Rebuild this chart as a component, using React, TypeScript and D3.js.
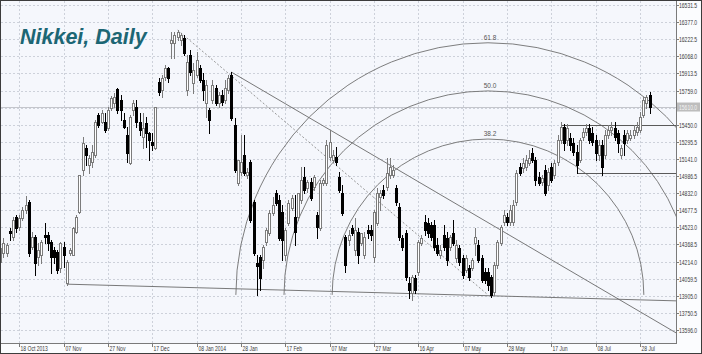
import * as d3 from 'd3';
import { useEffect, useRef } from 'react';

// daily bars, weekday CFD: [open, high, low, close]
const candles: number[][] = [
    [14210, 14435, 14095, 14335], [14290, 14425, 14255, 14380], [14290, 14380, 14265, 14365], [14490, 14520, 14410, 14475],
    [14435, 14615, 14410, 14590], [14615, 14635, 14480, 14520], [14530, 14635, 14500, 14610], [14610, 14705, 14590, 14680],
    [14680, 14805, 14655, 14725], [14755, 14770, 14265, 14290], [14345, 14480, 14330, 14435], [14435, 14455, 14095, 14200],
    [14255, 14380, 14185, 14320], [14275, 14410, 14200, 14390], [14455, 14565, 14380, 14435], [14455, 14480, 14320, 14380],
    [14390, 14410, 14110, 14255], [14320, 14345, 14200, 14255], [14300, 14320, 14110, 14140], [14155, 14390, 14120, 14380],
    [14345, 14390, 14165, 14275], [14020, 14230, 14005, 14210], [14290, 14335, 14275, 14320], [14275, 14525, 14275, 14520],
    [14480, 14635, 14475, 14615], [14660, 14995, 14655, 14995], [15040, 15340, 14995, 15285], [15240, 15265, 15085, 15175],
    [15085, 15175, 15015, 15150], [15115, 15265, 15070, 15205], [15175, 15495, 15160, 15475], [15540, 15555, 15430, 15450],
    [15475, 15585, 15465, 15555], [15475, 15555, 15385, 15405], [15420, 15610, 15405, 15585], [15600, 15710, 15585, 15690],
    [15645, 15735, 15610, 15700], [15775, 15780, 15555, 15585], [15675, 15720, 15495, 15585], [15495, 15555, 15420, 15430],
    [15360, 15430, 15115, 15195], [15105, 15540, 15095, 15520], [15585, 15675, 15540, 15645], [15610, 15675, 15430, 15475],
    [15475, 15555, 15360, 15405], [15340, 15555, 15240, 15420], [15465, 15520, 15250, 15375], [15375, 15385, 15130, 15315],
    [15295, 15375, 15220, 15265], [15240, 15610, 15230, 15610], [15835, 15875, 15720, 15745], [15765, 15900, 15700, 15875],
    [15880, 15990, 15855, 15965], [15965, 15970, 15835, 15875], [16190, 16290, 16055, 16215], [16190, 16290, 16055, 16260],
    [16245, 16305, 16215, 16290], [16215, 16280, 16170, 16260], [16235, 16260, 16080, 16100], [15765, 16080, 15720, 16015],
    [16080, 16125, 15900, 15925], [15825, 16010, 15735, 15945], [15900, 16105, 15880, 16035], [15965, 15990, 15835, 15855],
    [15855, 15920, 15675, 15765], [15645, 15855, 15520, 15810], [15585, 15600, 15375, 15495], [15675, 15855, 15645, 15810],
    [15780, 15810, 15630, 15645], [15645, 15745, 15610, 15720], [15720, 15765, 15630, 15655], [15675, 15855, 15645, 15780],
    [15765, 15900, 15735, 15875], [15900, 15925, 15495, 15510], [15450, 15510, 15025, 15040], [14925, 15130, 14905, 15130],
    [15025, 15360, 14995, 15115], [15175, 15360, 14995, 15015], [14995, 15060, 14970, 15025], [15115, 15130, 14570, 14590],
    [14755, 14770, 14275, 14290], [14200, 14275, 13915, 14175], [14255, 14275, 13960, 14065], [14230, 14365, 14155, 14345],
    [14390, 14520, 14365, 14500], [14470, 14680, 14455, 14655], [14655, 14800, 14635, 14725], [14835, 14860, 14725, 14745],
    [14770, 14815, 14410, 14425], [14660, 14725, 14230, 14410], [14275, 14520, 14230, 14500], [14565, 14770, 14545, 14745],
    [14700, 14815, 14680, 14790], [14615, 14815, 14365, 14480], [14615, 14835, 14590, 14835], [14770, 15070, 14745, 14950],
    [14980, 15070, 14835, 14860], [14880, 14950, 14845, 14935], [14935, 14970, 14770, 14790], [14890, 14995, 14860, 14980],
    [14635, 14665, 14430, 14525], [14520, 14950, 14500, 14925], [14925, 14970, 14905, 14950], [14925, 15315, 14905, 15265],
    [15160, 15405, 15130, 15295], [15130, 15220, 15115, 15175], [15160, 15250, 15085, 15115], [14980, 15025, 14845, 14860],
    [14835, 14905, 14635, 14655], [14435, 14455, 14120, 14185], [14410, 14500, 14365, 14455], [14520, 14545, 14455, 14475],
    [14320, 14610, 14275, 14500], [14480, 14520, 14200, 14275], [14380, 14455, 14365, 14475], [14275, 14480, 14245, 14435],
    [14500, 14545, 14430, 14475], [14500, 14545, 14410, 14455], [14255, 14680, 14210, 14660], [14565, 14880, 14545, 14835],
    [14800, 14860, 14680, 14835], [14860, 14905, 14790, 14815], [14890, 15150, 14860, 15015], [14995, 15150, 14970, 15070],
    [14995, 15085, 14980, 15040], [14880, 14905, 14725, 14755], [14705, 14745, 14410, 14435], [14425, 14455, 14320, 14345],
    [14475, 14500, 14050, 14075], [14020, 14075, 13885, 13960], [13930, 14095, 13865, 14075], [14065, 14095, 13930, 13960],
    [14120, 14410, 14095, 14390], [14380, 14455, 14365, 14425], [14570, 14635, 14455, 14500], [14565, 14610, 14435, 14475],
    [14545, 14570, 14410, 14435], [14545, 14590, 14320, 14345], [14365, 14425, 14275, 14290], [14275, 14365, 14245, 14320],
    [14455, 14545, 14320, 14345], [14425, 14480, 14185, 14230], [14345, 14455, 14320, 14435], [14475, 14590, 14365, 14380],
    [14245, 14410, 14210, 14365], [14335, 14365, 14185, 14210], [14245, 14275, 14065, 14095], [14140, 14275, 14120, 14245],
    [14155, 14185, 14050, 14075], [14155, 14245, 14140, 14230], [14380, 14520, 14275, 14435], [14365, 14410, 14210, 14230],
    [14245, 14275, 14030, 14050], [14120, 14155, 14020, 14050], [14120, 14155, 13960, 14005], [14075, 14095, 13895, 13915],
    [13940, 14210, 13915, 14185], [14185, 14410, 14155, 14390], [14380, 14545, 14365, 14525], [14570, 14680, 14545, 14635],
    [14615, 14655, 14545, 14570], [14570, 14725, 14545, 14680], [14570, 14770, 14545, 14725], [14755, 15040, 14725, 15015],
    [15070, 15105, 14995, 15015], [15060, 15150, 15025, 15105], [15070, 15175, 15040, 15130], [15105, 15220, 15085, 15150],
    [15195, 15240, 15115, 15130], [15130, 15160, 14905, 14950], [14980, 15025, 14905, 14925], [14935, 14995, 14905, 14970],
    [15040, 15085, 14815, 14835], [14905, 15060, 14860, 15025], [15070, 15105, 14935, 14950], [14995, 15130, 14970, 15105],
    [15115, 15360, 15085, 15315], [15315, 15475, 15285, 15430], [15430, 15455, 15220, 15285], [15315, 15455, 15265, 15420],
    [15330, 15375, 15220, 15265], [15285, 15330, 15175, 15205], [15205, 15265, 15015, 15085], [15130, 15330, 15115, 15315],
    [15340, 15420, 15315, 15385], [15385, 15455, 15360, 15420], [15420, 15455, 15285, 15315], [15375, 15430, 15265, 15295],
    [15315, 15360, 15130, 15195], [15175, 15315, 15130, 15265], [15265, 15315, 14995, 15070], [15175, 15405, 15150, 15360],
    [15360, 15450, 15330, 15405], [15405, 15475, 15360, 15430], [15420, 15475, 15315, 15340], [15375, 15405, 15205, 15285],
    [15177, 15265, 15150, 15240], [15360, 15405, 15175, 15285], [15315, 15405, 15285, 15375], [15330, 15405, 15315, 15360],
    [15360, 15450, 15330, 15405], [15385, 15475, 15360, 15430], [15405, 15565, 15385, 15520], [15540, 15700, 15520, 15675],
    [15645, 15720, 15600, 15700], [15720, 15745, 15555, 15610],
];

const xTickIdx = [6, 20, 34, 48, 62, 76, 90, 104, 118, 132, 146, 160, 174, 188, 202];
const xTickLabels = ['18 Oct 2013', '07 Nov', '27 Nov', '17 Dec', '08 Jan 2014', '28 Jan', '17 Feb', '07 Mar',
    '27 Mar', '16 Apr', '07 May', '28 May', '17 Jun', '08 Jul', '28 Jul'];
const yTicks = [13596.0, 13750.5, 13905.0, 14059.5, 14214.0, 14368.5, 14523.0, 14677.5, 14832.0, 14986.5,
    15141.0, 15295.5, 15450.0, 15604.5, 15759.0, 15913.5, 16068.0, 16222.5, 16377.0, 16531.5];

// fibonacci arcs: from the December high to the May low
const fibFrom = [56, 16305];
const fibTo = [154, 13913];
const fibLevels = [38.2, 50.0, 61.8];

// trend rays [idx1, price1, idx2, price2], extended to the right
const trendLines = [[73, 15925, 104, 15405], [21, 14010, 155, 13905]];
// horizontal levels [startIdx, price]
const levelLines = [[177, 15450], [182, 15015]];
const lastPrice = 15610.0;

const FONT = 'Liberation Sans, Arial, sans-serif';

export default function App() {
    const ref = useRef<any>();

    useEffect(() => {
        const W = 702;
        const H = 354;
        const plot = { left: 1, top: 1, right: 676, bottom: 343 };

        const svg = d3.select<any, any>(ref.current);
        svg.selectAll('*').remove();

        const x = d3.scaleLinear().domain([6, 202]).range([19.3, 640]);
        const y = d3.scaleLinear().domain([13596, 16531.5]).range([330, 5]);

        // narrow small label: squeeze horizontally like the terminal font
        const smallText = (g: any, tx: number, ty: number, s: string, fill: string) =>
            g.append('text')
                .attr('transform', `translate(${tx},${ty}) scale(0.72,1)`)
                .attr('font-family', FONT).attr('font-size', 7).attr('fill', fill)
                .text(s);

        svg.append('rect').attr('x', 0).attr('y', 0).attr('width', W).attr('height', H).attr('fill', '#fbfcfe');
        svg.append('rect')
            .attr('x', plot.left).attr('y', plot.top)
            .attr('width', plot.right - plot.left).attr('height', plot.bottom - plot.top)
            .attr('fill', '#f5f7fc');

        svg.append('clipPath').attr('id', 'plotclip')
            .append('rect')
            .attr('x', plot.left).attr('y', plot.top)
            .attr('width', plot.right - plot.left).attr('height', plot.bottom - plot.top);

        const stage = svg.append('g').attr('clip-path', 'url(#plotclip)');

        //grid
        const grid = stage.append('g').attr('stroke', '#cdd1da').attr('stroke-dasharray', '2,2').attr('shape-rendering', 'crispEdges');
        grid.selectAll('.hg').data(yTicks).join('line')
            .attr('x1', plot.left).attr('x2', plot.right)
            .attr('y1', d => Math.round(y(d)) + 0.5).attr('y2', d => Math.round(y(d)) + 0.5);
        grid.selectAll('.vg').data(xTickIdx).join('line')
            .attr('y1', plot.top).attr('y2', plot.bottom)
            .attr('x1', d => Math.round(x(d)) + 0.5).attr('x2', d => Math.round(x(d)) + 0.5);

        // bid line
        stage.append('line')
            .attr('x1', plot.left).attr('x2', plot.right)
            .attr('y1', Math.round(y(lastPrice)) + 0.5).attr('y2', Math.round(y(lastPrice)) + 0.5)
            .attr('stroke', '#c4c6cc').attr('shape-rendering', 'crispEdges');

        // fib arcs
        const cx = x(fibTo[0]);
        const cy = y(fibTo[1]);
        const rBase = Math.hypot(x(fibFrom[0]) - cx, y(fibFrom[1]) - cy);
        const arcs = stage.append('g');
        fibLevels.forEach((lv) => {
            const r = rBase * lv / 100;
            const p = d3.path();
            p.moveTo(cx - r, cy);
            p.arc(cx, cy, r, Math.PI, 2 * Math.PI);
            arcs.append('path').attr('d', p.toString()).attr('fill', 'none').attr('stroke', '#6f6f6f').attr('stroke-width', 0.9);
            arcs.append('text')
                .attr('x', cx + 2).attr('y', cy - r - 3)
                .attr('text-anchor', 'middle')
                .attr('font-family', FONT)
                .attr('font-size', 6.5).attr('fill', '#555')
                .text(lv.toFixed(1));
        });
        // fib base line (dotted)
        stage.append('line')
            .attr('x1', x(fibFrom[0])).attr('y1', y(fibFrom[1]))
            .attr('x2', cx).attr('y2', cy)
            .attr('stroke', '#8a8a8a').attr('stroke-dasharray', '2,2').attr('stroke-width', 0.9);

        // trend rays
        trendLines.forEach(([i1, p1, i2, p2]) => {
            const x1 = x(i1), y1 = y(p1), x2 = x(i2), y2 = y(p2);
            const k = (y2 - y1) / (x2 - x1);
            stage.append('line')
                .attr('x1', x1).attr('y1', y1)
                .attr('x2', plot.right).attr('y2', y1 + k * (plot.right - x1))
                .attr('stroke', '#6a6a6a').attr('stroke-width', 0.9);
        });
        levelLines.forEach(([i1, p]) => {
            stage.append('line')
                .attr('x1', x(i1)).attr('x2', plot.right)
                .attr('y1', Math.round(y(p)) + 0.5).attr('y2', Math.round(y(p)) + 0.5)
                .attr('stroke', '#5a5a5a').attr('shape-rendering', 'crispEdges');
        });

        // candles
        const bars = stage.append('g').attr('shape-rendering', 'crispEdges');
        candles.forEach((d, i) => {
            const [o, h, l, c] = d;
            const up = c >= o;
            const col = up ? '#7c7c7c' : '#000';
            const px = Math.round(x(i));
            bars.append('line')
                .attr('x1', px + 0.5).attr('x2', px + 0.5)
                .attr('y1', Math.round(y(h))).attr('y2', Math.round(y(l)) + 1)
                .attr('stroke', col);
            const top = Math.round(y(Math.max(o, c)));
            const bot = Math.round(y(Math.min(o, c)));
            bars.append('rect')
                .attr('x', px - 0.5).attr('y', top + 0.5)
                .attr('width', 2).attr('height', Math.max(bot - top, 1))
                .attr('fill', up ? '#ffffff' : '#000')
                .attr('stroke', col);
        });

        // axes
        svg.append('line').attr('x1', plot.right + 0.5).attr('x2', plot.right + 0.5)
            .attr('y1', plot.top).attr('y2', plot.bottom + 0.5).attr('stroke', '#7a7a7a').attr('shape-rendering', 'crispEdges');
        svg.append('line').attr('x1', plot.left).attr('x2', plot.right + 0.5)
            .attr('y1', plot.bottom + 0.5).attr('y2', plot.bottom + 0.5).attr('stroke', '#7a7a7a').attr('shape-rendering', 'crispEdges');

        const yAx = svg.append('g');
        yTicks.forEach((t) => {
            const yy = Math.round(y(t)) + 0.5;
            yAx.append('line').attr('x1', plot.right).attr('x2', plot.right + 3).attr('y1', yy).attr('y2', yy)
                .attr('stroke', '#7a7a7a').attr('shape-rendering', 'crispEdges');
            smallText(yAx, plot.right + 3, yy + 2.5, t.toFixed(1), '#3a3a3a');
        });

        const xAx = svg.append('g');
        xTickIdx.forEach((idx, k) => {
            const xx = Math.round(x(idx)) + 0.5;
            xAx.append('line').attr('x1', xx).attr('x2', xx).attr('y1', plot.bottom).attr('y2', plot.bottom + 4)
                .attr('stroke', '#7a7a7a').attr('shape-rendering', 'crispEdges');
            smallText(xAx, xx + 1, 350.5, xTickLabels[k], '#3a3a3a');
        });

        // last price marker
        const ly = y(lastPrice);
        svg.append('rect').attr('x', plot.right + 1).attr('y', ly - 4.5).attr('width', 23).attr('height', 9).attr('fill', '#bdbdbd');
        smallText(svg, plot.right + 3, ly + 2.5, lastPrice.toFixed(1), '#f4f4f4');

        // title
        svg.append('text').attr('x', 20).attr('y', 44)
            .attr('font-family', FONT)
            .attr('font-size', 21.5).attr('font-weight', 'bold').attr('font-style', 'italic')
            .attr('fill', '#1c6674')
            .text('Nikkei, Daily');

        // outer frame
        svg.append('rect').attr('x', 0.5).attr('y', 0.5).attr('width', W - 1).attr('height', H - 1)
            .attr('fill', 'none').attr('stroke', '#3c3c3c');
    }, []);

    return (
        <svg ref={ref} width={702} height={354} style={{ position: 'absolute', left: 0, top: 0, display: 'block' }}></svg>
    );
}
